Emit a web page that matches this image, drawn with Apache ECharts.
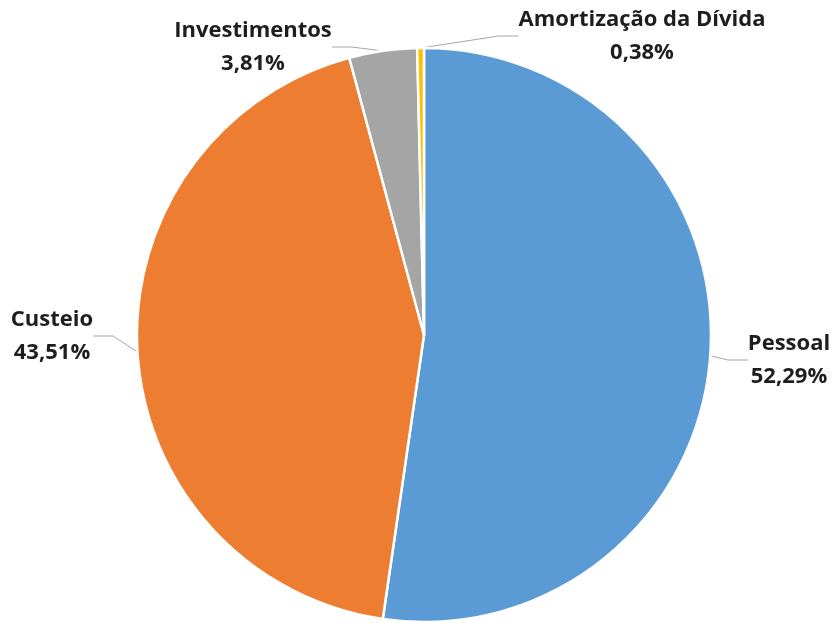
<!DOCTYPE html>
<html>
<head>
<meta charset="utf-8">
<script src="https://cdn.jsdelivr.net/npm/echarts@6/dist/echarts.min.js"></script>
<style>
  html, body { margin: 0; padding: 0; background: #fff; }
  #main { width: 836px; height: 623px; }
</style>
</head>
<body>
<div id="main"></div>
<script>
  // dados do gráfico
  var categorias = ['Pessoal', 'Custeio', 'Investimentos', 'Amortização da Dívida'];
  var valores = [52.29, 43.51, 3.81, 0.38];
  var cores = ['#5B9BD5', '#ED7D31', '#A5A5A5', '#FFC000'];

  // onde fica o centro de cada rótulo
  var posRotulos = [[789, 360], [52, 336], [253, 47], [642, 36]];

  var myChart = echarts.init(document.getElementById('main'));

  var dados = categorias.map(function (nome, i) {
    return { name: nome, value: valores[i], itemStyle: { color: cores[i] } };
  });

  var option = {
    animation: false,
    series: [
      {
        type: 'pie',
        center: [424, 335],
        radius: [0, 287],
        startAngle: 90,
        clockwise: true,
        data: dados,
        itemStyle: { borderColor: '#fff', borderWidth: 2.5 },
        label: {
          show: true,
          position: 'outside',
          overflow: 'none',
          fontFamily: 'Open Sans',
          fontWeight: 'bold',
          fontSize: 22,
          lineHeight: 33,
          color: '#1e1e1e',
          align: 'center',
          formatter: function (p) {
            return p.name + '\n' + p.value.toFixed(2).replace('.', ',') + '%';
          }
        },
        labelLine: {
          show: true,
          length: 20,
          length2: 20,
          lineStyle: { color: '#A6A6A6', width: 1 }
        },
        labelLayout: function (p) {
          var pos = posRotulos[p.dataIndex];
          return { x: pos[0], y: pos[1], align: 'center', verticalAlign: 'middle' };
        }
      }
    ]
  };

  myChart.setOption(option);
</script>
</body>
</html>
